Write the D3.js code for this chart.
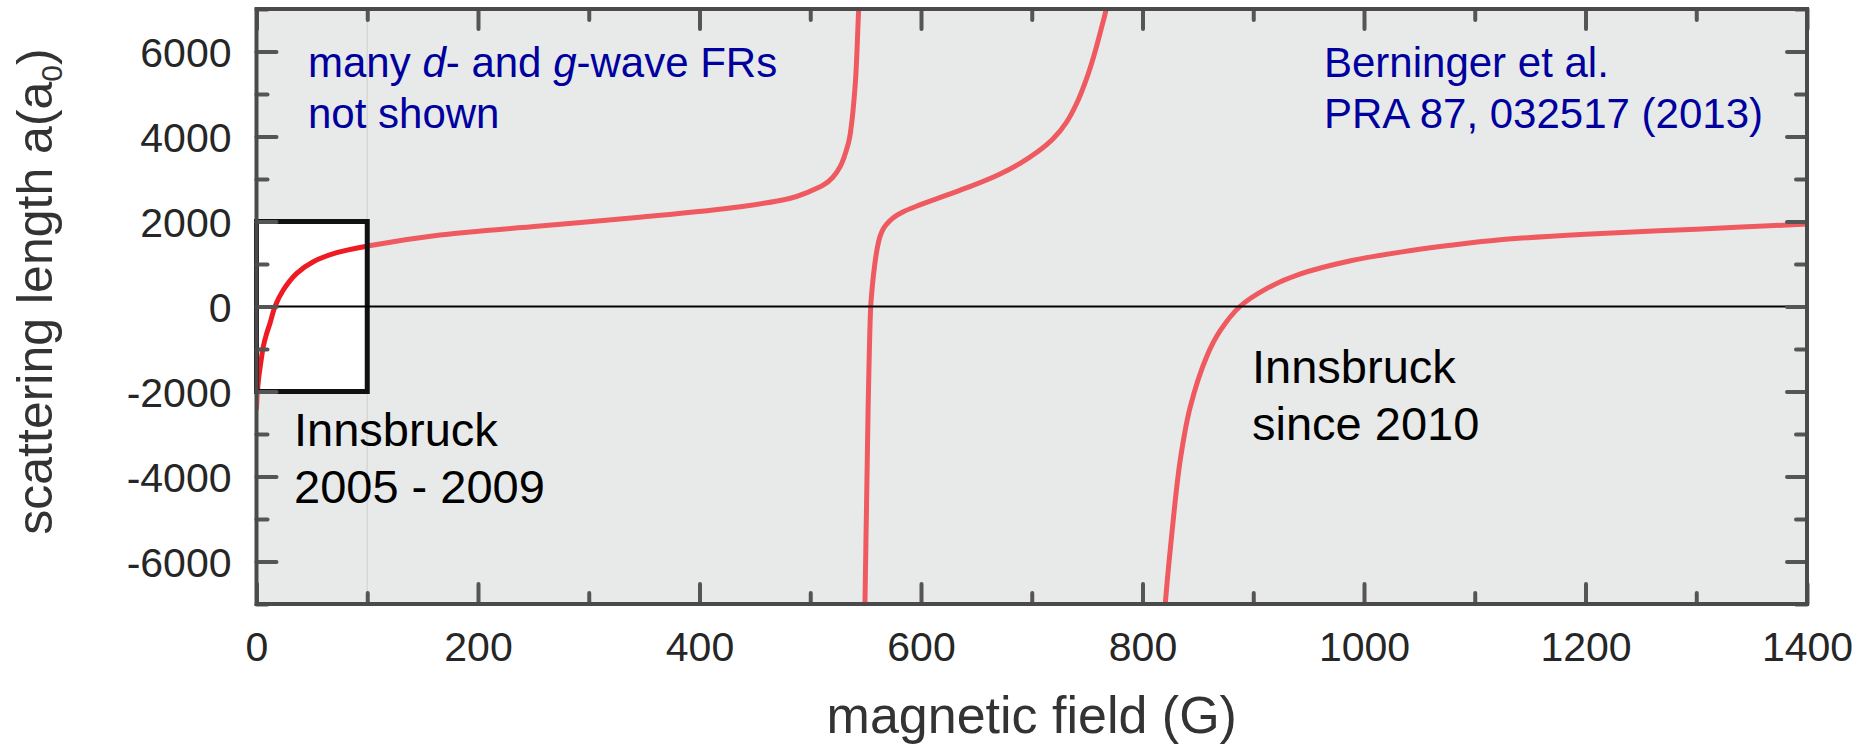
<!DOCTYPE html>
<html>
<head>
<meta charset="utf-8">
<script src="https://cdn.jsdelivr.net/npm/d3@7"></script>
<style>
  html, body { margin: 0; padding: 0; background: #ffffff; }
  svg { display: block; }
</style>
</head>
<body>
<svg id="chart" width="1862" height="753"></svg>
<script>
// Cs scattering length a (in Bohr radii) versus magnetic field B (G).
// The curve is split into branches between the Feshbach poles.
const fieldBranch1  = [0, 1.6, 4, 6.1, 9, 12.2, 16.7, 24.2, 36.3, 51.3, 72.4, 100.4, 165.7, 256, 346, 437, 482, 497, 512, 520, 527, 534.4, 536.2, 540.7, 543.7, 544.5];
const lengthBranch1 = [-2400, -1770, -1300, -946, -650, -395, 0, 388, 781, 1054, 1266, 1424, 1682, 1894, 2099, 2348, 2546, 2680, 2859, 3030, 3289, 3840, 4075, 5252, 6976, 7300];

const fieldBranch2  = [549.2, 550.9, 552.4, 554.6, 555.8, 557, 560, 563, 566, 569, 575, 584, 599, 620, 644, 670, 689.5, 705, 719.5, 731, 740.6, 749, 755.6, 762, 767.7, 768.5];
const lengthBranch2 = [-7300, -4553, -2200, 0, 400, 720, 1300, 1650, 1830, 1940, 2090, 2230, 2390, 2590, 2819, 3100, 3369, 3633, 3952, 4320, 4781, 5327, 5855, 6463, 7061, 7300];

const fieldBranch3  = [819.8, 820.3, 826.4, 833.9, 842.9, 858, 870, 888, 912, 942, 987, 1033, 1078, 1123, 1200, 1300, 1400];
const lengthBranch3 = [-7300, -7084, -5370, -3644, -2384, -1176, -576, 0, 420, 760, 1070, 1280, 1440, 1570, 1700, 1820, 1940];

const fieldDomain  = [0, 1400];
const lengthDomain = [-7000, 7000];
const xTickLabels  = [0, 200, 400, 600, 800, 1000, 1200, 1400];
const yTickLabels  = [-6000, -4000, -2000, 0, 2000, 4000, 6000];
const yMajorTicks  = [-6000, -4000, -2000, 0, 2000, 4000, 6000];

// Range explored 2005-2009 (highlighted frame)
const boxField  = [0, 100];
const boxLength = [-2000, 2000];

const FONT = "'Liberation Sans', Arial, Helvetica, sans-serif";
const plot = { left: 256.5, right: 1807, top: 9, bottom: 604 };

const svg = d3.select("#chart");
const x = d3.scaleLinear().domain(fieldDomain).range([plot.left, plot.right]);
const y = d3.scaleLinear().domain(lengthDomain).range([plot.bottom, plot.top]);

const defs = svg.append("defs");
defs.append("clipPath").attr("id", "clip-plot")
  .append("rect")
  .attr("x", x(fieldDomain[0])).attr("y", y(lengthDomain[1]))
  .attr("width", x(fieldDomain[1]) - x(fieldDomain[0]))
  .attr("height", y(lengthDomain[0]) - y(lengthDomain[1]));
defs.append("clipPath").attr("id", "clip-box")
  .append("rect")
  .attr("x", x(boxField[0])).attr("y", y(boxLength[1]))
  .attr("width", x(boxField[1]) - x(boxField[0]))
  .attr("height", y(boxLength[0]) - y(boxLength[1]));

// plot background
svg.append("rect")
  .attr("x", x(fieldDomain[0])).attr("y", y(lengthDomain[1]))
  .attr("width", x(fieldDomain[1]) - x(fieldDomain[0]))
  .attr("height", y(lengthDomain[0]) - y(lengthDomain[1]))
  .attr("fill", "#e8eae9");

// faint guide at the edge of the old field range
svg.append("line")
  .attr("x1", x(boxField[1])).attr("x2", x(boxField[1]))
  .attr("y1", y(lengthDomain[1])).attr("y2", y(lengthDomain[0]))
  .attr("stroke", "#d6d8d8").attr("stroke-width", 1.5);

const branches = [
  d3.zip(fieldBranch1, lengthBranch1),
  d3.zip(fieldBranch2, lengthBranch2),
  d3.zip(fieldBranch3, lengthBranch3)
];
const line = d3.line()
  .x(d => x(d[0]))
  .y(d => y(d[1]))
  .curve(d3.curveCatmullRom.alpha(0.5));

// curve on the grey background
svg.append("g").attr("clip-path", "url(#clip-plot)")
  .selectAll("path").data(branches).join("path")
  .attr("d", line)
  .attr("fill", "none")
  .attr("stroke", "#ef5a60")
  .attr("stroke-width", 5)
  .attr("stroke-linecap", "round")
  .attr("stroke-linejoin", "round");

// white box for the 2005-2009 range
const boxRect = {
  x: x(boxField[0]), y: y(boxLength[1]),
  w: x(boxField[1]) - x(boxField[0]), h: y(boxLength[0]) - y(boxLength[1])
};
svg.append("rect")
  .attr("x", boxRect.x).attr("y", boxRect.y)
  .attr("width", boxRect.w).attr("height", boxRect.h)
  .attr("fill", "#ffffff");

// curve inside the box, full red
svg.append("g").attr("clip-path", "url(#clip-box)")
  .selectAll("path").data(branches).join("path")
  .attr("d", line)
  .attr("fill", "none")
  .attr("stroke", "#ef1b22")
  .attr("stroke-width", 5)
  .attr("stroke-linecap", "round")
  .attr("stroke-linejoin", "round");

svg.append("rect")
  .attr("x", boxRect.x).attr("y", boxRect.y)
  .attr("width", boxRect.w).attr("height", boxRect.h)
  .attr("fill", "none")
  .attr("stroke", "#111111")
  .attr("stroke-width", 5);

// a = 0 line
svg.append("line")
  .attr("x1", x(fieldDomain[0])).attr("x2", x(fieldDomain[1]))
  .attr("y1", y(0)).attr("y2", y(0))
  .attr("stroke", "#000000").attr("stroke-width", 2);

// inward ticks on all four sides
function styleTicks(g) {
  g.select(".domain").remove();
  g.selectAll(".tick text").remove();
  g.selectAll(".tick line")
    .attr("stroke", "#555555")
    .attr("stroke-width", 4)
    .attr("stroke-linecap", "round");
}
const MAJOR = 20, MINOR = 11;
const xMinor = x.ticks(14).filter(v => v % 200 !== 0);
const yMinor = y.ticks(14).filter(v => v % 2000 !== 0);

[["bottom", plot.bottom], ["top", plot.top]].forEach(([side, pos]) => {
  const mk = side === "bottom" ? d3.axisBottom : d3.axisTop;
  svg.append("g").attr("transform", `translate(0,${pos})`)
    .call(mk(x).tickValues(xTickLabels).tickSize(-MAJOR)).call(styleTicks);
  svg.append("g").attr("transform", `translate(0,${pos})`)
    .call(mk(x).tickValues(xMinor).tickSize(-MINOR)).call(styleTicks);
});
[["left", plot.left], ["right", plot.right]].forEach(([side, pos]) => {
  const mk = side === "left" ? d3.axisLeft : d3.axisRight;
  svg.append("g").attr("transform", `translate(${pos},0)`)
    .call(mk(y).tickValues(yMajorTicks).tickSize(-MAJOR)).call(styleTicks);
  svg.append("g").attr("transform", `translate(${pos},0)`)
    .call(mk(y).tickValues(yMinor).tickSize(-MINOR)).call(styleTicks);
});

// frame
svg.append("rect")
  .attr("x", x(fieldDomain[0])).attr("y", y(lengthDomain[1]))
  .attr("width", x(fieldDomain[1]) - x(fieldDomain[0]))
  .attr("height", y(lengthDomain[0]) - y(lengthDomain[1]))
  .attr("fill", "none")
  .attr("stroke", "#4a4a4a")
  .attr("stroke-width", 4);

// tick labels (plain hyphen for negative numbers)
const plainNumber = d => String(d);
const xLab = svg.append("g").attr("transform", `translate(0,${plot.bottom})`)
  .call(d3.axisBottom(x).tickValues(xTickLabels).tickSize(0).tickFormat(plainNumber));
xLab.select(".domain").remove();
xLab.selectAll("text")
  .attr("y", 57).attr("dy", 0)
  .attr("fill", "#262626")
  .style("font-family", FONT).style("font-size", "41px");

const yLab = svg.append("g").attr("transform", `translate(${plot.left},0)`)
  .call(d3.axisLeft(y).tickValues(yTickLabels).tickSize(0).tickFormat(plainNumber));
yLab.select(".domain").remove();
yLab.selectAll("text")
  .attr("x", -25).attr("dy", "0.36em")
  .attr("fill", "#262626")
  .style("font-family", FONT).style("font-size", "41px");

// axis titles
svg.append("text")
  .attr("x", (plot.left + plot.right) / 2).attr("y", 733)
  .attr("text-anchor", "middle")
  .attr("fill", "#333333")
  .style("font-family", FONT).style("font-size", "52px")
  .text("magnetic field (G)");

const yTitle = svg.append("text")
  .attr("transform", `translate(52,${(43 + 540) / 2}) rotate(-90)`)
  .attr("text-anchor", "middle")
  .attr("fill", "#333333")
  .style("font-family", FONT).style("font-size", "50px");
yTitle.append("tspan").text("scattering length a(a");
yTitle.append("tspan").attr("dy", 10).style("font-size", "30px").text("0");
yTitle.append("tspan").attr("dy", -10).text(")");

// annotations
function note(xPos, yPos, size, color, parts) {
  const t = svg.append("text")
    .attr("x", xPos).attr("y", yPos)
    .attr("fill", color)
    .style("font-family", FONT).style("font-size", size + "px");
  parts.forEach(p => {
    const s = t.append("tspan").text(p.t);
    if (p.i) s.style("font-style", "italic");
  });
}
const BLUE = "#00009e";
note(308, 77, 42, BLUE, [{ t: "many " }, { t: "d", i: true }, { t: "- and " }, { t: "g", i: true }, { t: "-wave FRs" }]);
note(308, 128, 42, BLUE, [{ t: "not shown" }]);
note(1324, 77, 42, BLUE, [{ t: "Berninger et al." }]);
note(1324, 128, 42, BLUE, [{ t: "PRA 87, 032517 (2013)" }]);

note(294, 446, 47, "#000000", [{ t: "Innsbruck" }]);
note(294, 503, 47, "#000000", [{ t: "2005 - 2009" }]);
note(1252, 383, 47, "#000000", [{ t: "Innsbruck" }]);
note(1252, 440, 47, "#000000", [{ t: "since 2010" }]);
</script>
</body>
</html>
